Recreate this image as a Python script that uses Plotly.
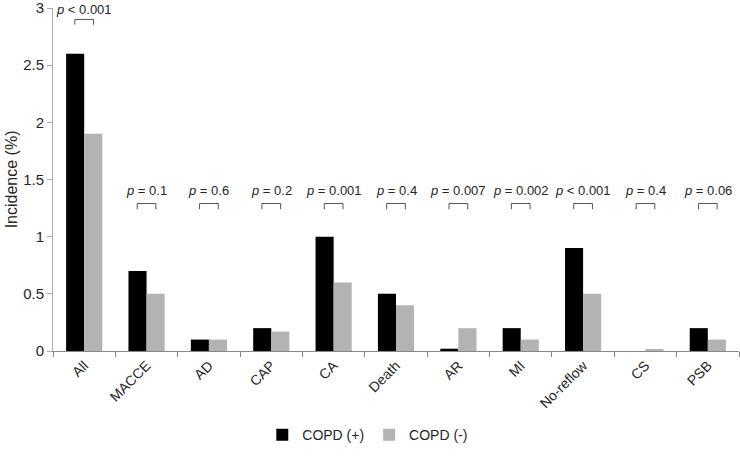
import plotly.graph_objects as go

categories = ["All", "MACCE", "AD", "CAP", "CA", "Death", "AR", "MI", "No-reflow", "CS", "PSB"]
copd_pos = [2.6, 0.7, 0.1, 0.2, 1.0, 0.5, 0.02, 0.2, 0.9, 0.0, 0.2]
copd_neg = [1.9, 0.5, 0.1, 0.17, 0.6, 0.4, 0.2, 0.1, 0.5, 0.01, 0.1]
p_labels = ["< 0.001", "= 0.1", "= 0.6", "= 0.2", "= 0.001", "= 0.4", "= 0.007",
            "= 0.002", "< 0.001", "= 0.4", "= 0.06"]
y_ticks = [0, 0.5, 1, 1.5, 2, 2.5, 3]
y_ticktext = ["0", "0.5", "1", "1.5", "2", "2.5", "3"]
y_title = "Incidence (%)"

FONT = "Liberation Sans, Arial, sans-serif"
TXT = "#262626"
fig = go.Figure()
fig.add_bar(x=categories, y=copd_pos, name="COPD (+)", marker_color="#000000",
            marker_line_width=0)
fig.add_bar(x=categories, y=copd_neg, name="COPD (-)", marker_color="#b3b3b3",
            marker_line_width=0)

shapes = []
annotations = []
for i, (a, b, p) in enumerate(zip(copd_pos, copd_neg, p_labels)):
    if i == 0:
        top, bot, ty = 2.90, 2.855, 2.99
    else:
        top, bot, ty = 1.29, 1.24, 1.40
    path = f"M {i-0.15},{bot} L {i-0.15},{top} L {i+0.15},{top} L {i+0.15},{bot}"
    shapes.append(dict(type="path", xref="x", yref="y",
                       path=path, line=dict(color="#555555", width=1)))
    annotations.append(dict(x=i, y=ty, xref="x", yref="y", showarrow=False,
                            text=f"<i>p</i> {p}", font=dict(size=13, color=TXT, family=FONT)))

# y-axis title as rotated annotation (left of tick labels)
annotations.append(dict(x=-0.06, y=0.5, xref="paper", yref="paper", showarrow=False,
                        text=y_title, textangle=-90, xanchor="center", yanchor="middle",
                        font=dict(size=16, color=TXT, family=FONT)))

fig.update_layout(
    width=740, height=456,
    margin=dict(l=53, r=1, t=8, b=105, autoexpand=False),
    paper_bgcolor="white", plot_bgcolor="white",
    font=dict(family=FONT, size=15, color=TXT),
    barmode="group", bargap=0.42, bargroupgap=0,
    shapes=shapes, annotations=annotations,
    showlegend=True,
    legend=dict(orientation="h", x=0.497, xanchor="center", xref="container",
                y=-0.245, yanchor="middle", yref="paper",
                font=dict(size=14, color=TXT), itemwidth=30, traceorder="normal"),
    xaxis=dict(type="category", showline=True, linecolor="#888888", linewidth=1,
               ticks="outside", tickson="boundaries", ticklen=5, tickcolor="#888888",
               tickangle=-45, showgrid=False, zeroline=False, automargin=False,
               tickfont=dict(size=14, color=TXT)),
    yaxis=dict(range=[0, 3], tickvals=y_ticks, ticktext=y_ticktext,
               showline=True, linecolor="#aaaaaa", linewidth=1,
               ticks="outside", ticklen=5, tickcolor="#aaaaaa",
               showgrid=False, zeroline=False, automargin=False,
               ticklabeloverflow="allow",
               tickfont=dict(size=15, color=TXT)),
)
fig.write_html("out.html", config={"displayModeBar": False},
               post_script="document.body.style.margin='0';document.body.style.overflow='hidden';")
